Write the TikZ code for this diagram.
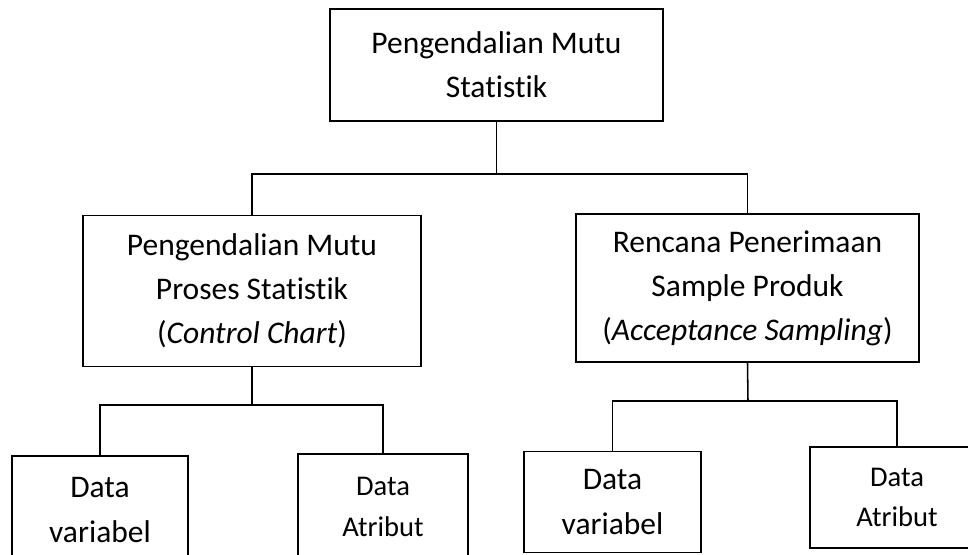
\documentclass[tikz,border=0pt]{standalone}
\usepackage{fontspec}
\setmainfont{Carlito}[Ligatures=CommonOff]
\usepackage{tikz}
\usetikzlibrary{positioning,calc}

\begin{document}
\begin{tikzpicture}[x=0.025cm,y=-0.025cm,line width=1.1pt,
  kotak/.style={draw,rectangle,align=center,inner sep=0pt,font=\fontsize{22.4}{31.3}\selectfont},
  kotakkecil/.style={kotak,font=\fontsize{20.3}{29}\selectfont}]
 \useasboundingbox (0,0) rectangle (968,554);
 \clip (0,0) rectangle (968,554);
 % level 1
 \node[kotak,minimum width=8.325cm,minimum height=2.8cm] (pms) at (496.5,65){Pengendalian Mutu\\Statistik};
 % level 2
 \node[kotak,minimum width=8.45cm,minimum height=3.775cm] (pmps) at (252,291){Pengendalian Mutu\\Proses Statistik\\(\textit{Control Chart})};
 \node[kotak,minimum width=8.575cm,minimum height=3.7cm] (rpsp) at (747.5,288){Rencana Penerimaan\\Sample Produk\\(\textit{Acceptance Sampling})};
 % level 3 (cut off at the bottom)
 \node[kotak,minimum width=4.4cm,minimum height=2.7cm] (dv1) at (100,510){Data\\variabel};
 \node[kotakkecil,minimum width=4.25cm,minimum height=2.65cm] (da1) at (383,507){Data\\Atribut};
 \node[kotak,minimum width=4.425cm,minimum height=2.525cm] (dv2) at (612.5,502){Data\\variabel};
 \node[kotakkecil,minimum width=4.35cm,minimum height=2.525cm] (da2) at (897,497.5){Data\\Atribut};
 % junctions
 \coordinate (j1) at (496.5,174);
 \coordinate (j2) at (252,405);
 \coordinate (j3) at (748,401);
 % connectors
 \draw (pms.south) -- (j1);
 \draw (pmps.north) |- (j1) -| (rpsp.north);
 \draw (pmps.south) -- (j2);
 \draw (dv1.north) |- (j2) -| (da1.north);
 \draw (rpsp.south) -- (j3);
 \draw (dv2.north) |- (j3) -| (da2.north);
\end{tikzpicture}
\end{document}
